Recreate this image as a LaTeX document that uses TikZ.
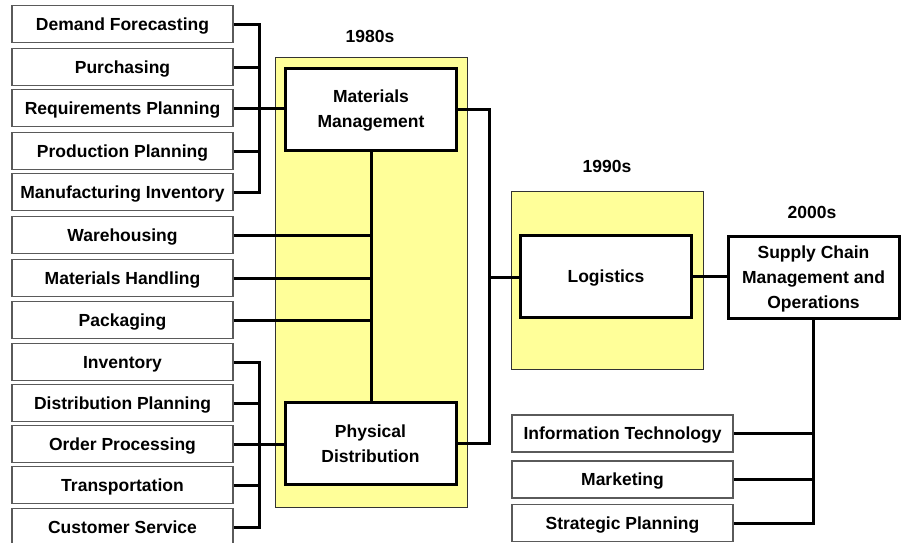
\documentclass[tikz,border=0pt]{standalone}
\usepackage{fontspec}
\setmainfont{Liberation Sans}
\usetikzlibrary{positioning, calc}
\definecolor{eraYellow}{HTML}{FFFF99}
\definecolor{boxgray}{HTML}{5A5A5A}

\begin{document}
\begin{tikzpicture}[x=1pt, y=-1pt, line join=miter,
        every node/.style={font=\bfseries\fontsize{17.5}{25}\selectfont,
                           inner sep=0pt, text depth=0pt},
        itembox/.style={draw=boxgray, line width=1.1pt, fill=white,
                        minimum width=221pt, minimum height=37pt},
        corebox/.style={draw=black, line width=3pt, fill=white, align=center,
                        minimum width=171pt, minimum height=82pt},
        era/.style={fill=eraYellow, draw=black!80, line width=0.8pt},
        link/.style={draw=black, line width=3pt}]
    \useasboundingbox (0,0) rectangle (901,542);

    % yellow era panels and their years
    \path[era] (275,57) rectangle (467,507);
    \path[era] (511,191) rectangle (703,369);
    \node (y80) at (370,36) {1980s};
    \node (y90) at (607,166) {1990s};
    \node (y00) at (812,212) {2000s};

    % main blocks
    \node[corebox] (mm)  at (371,109)   {Materials\\Management};
    \node[corebox] (pd)  at (370.5,443.5) {Physical\\Distribution};
    \node[corebox] (lg)  at (606,276.5) {Logistics};
    \node[corebox] (scm) at (813.5,277) {Supply Chain\\Management and\\Operations};

    % functions on the left
    \foreach \nm/\y/\txt in {df/24/Demand Forecasting, pu/67/Purchasing,
            rp/108/Requirements Planning, pp/151/Production Planning,
            mi/192/Manufacturing Inventory, wh/235/Warehousing,
            mh/278/Materials Handling, pk/320/Packaging,
            inv/362/Inventory, dp/403/Distribution Planning,
            op/444/Order Processing, tr/485/Transportation,
            cs/527/Customer Service} {
        \node[itembox] (\nm) at (122.5,\y) {\txt};
    }

    % functions below supply chain
    \foreach \nm/\y/\txt in {it/433.5/Information Technology, mk/479.5/Marketing,
            sp/523/Strategic Planning} {
        \node[itembox] (\nm) at (622.5,\y) {\txt};
    }

    % brackets into materials management / physical distribution
    \coordinate (mmbus) at (259,108);
    \coordinate (pdbus) at (259,444);
    \foreach \nm in {df,pu,rp,pp,mi} { \draw[link] (\nm.east) -| (mmbus); }
    \draw[link] (mmbus) -- (mmbus -| mm.west);
    \foreach \nm in {inv,dp,op,tr,cs} { \draw[link] (\nm.east) -| (pdbus); }
    \draw[link] (pdbus) -- (pdbus -| pd.west);

    % shared functions hang off the middle spine
    \draw[link] (mm.south) -- (mm.south |- pd.north);
    \foreach \nm in {wh,mh,pk} { \draw[link] (\nm.east) -- (\nm.east -| mm.south); }

    % merge into logistics, then supply chain
    \coordinate (lgbus) at (489,277);
    \draw[link] (mm.east) -| (lgbus);
    \draw[link] (pd.east) -| (lgbus);
    \draw[link] (lgbus) -- (lgbus -| lg.west);
    \draw[link] (lg.east) -- (lg.east -| scm.west);
    \foreach \nm in {it,mk,sp} { \draw[link] (scm.south) |- (\nm.east); }
\end{tikzpicture}
\end{document}
